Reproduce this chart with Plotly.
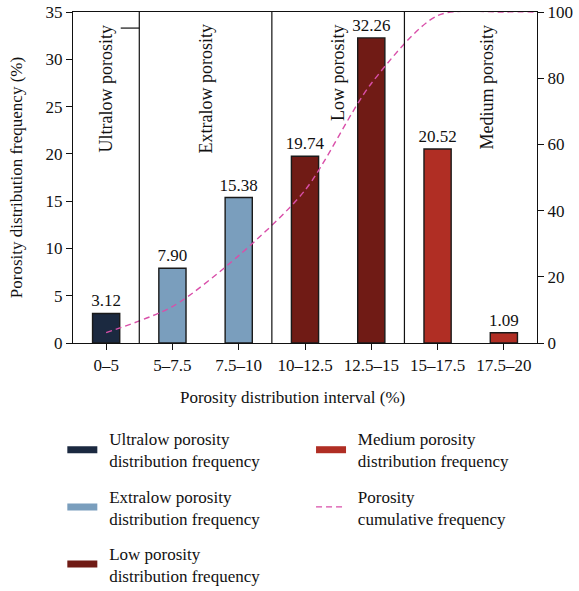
import plotly.graph_objects as go

# Porosity intervals and their distribution frequencies (%)
intervals = ["0–5", "5–7.5", "7.5–10", "10–12.5", "12.5–15", "15–17.5", "17.5–20"]
frequency = [3.12, 7.90, 15.38, 19.74, 32.26, 20.52, 1.09]
porosity_class = ["Ultralow", "Extralow", "Extralow", "Low", "Low", "Medium", "Medium"]

# Cumulative frequency (%) at each interval
cumulative = [3.12, 11.02, 26.40, 46.14, 78.40, 98.92, 100.0]

# Class styling and legend labels
class_names = ["Ultralow", "Extralow", "Low", "Medium"]
class_colors = {"Ultralow": "#1b2940", "Extralow": "#7a9ebd", "Low": "#701b15", "Medium": "#b02e24"}
class_legend = {
    "Ultralow": ["Ultralow porosity", "distribution frequency"],
    "Extralow": ["Extralow porosity", "distribution frequency"],
    "Low": ["Low porosity", "distribution frequency"],
    "Medium": ["Medium porosity", "distribution frequency"],
}
cumulative_legend = ["Porosity", "cumulative frequency"]

# Region boundaries and region captions
region_bounds = [0.5, 2.5, 4.5]
region_labels = ["Ultralow porosity", "Extralow porosity", "Low porosity", "Medium porosity"]
region_label_x = [0.0, 1.5, 3.5, 5.74]

FONT = "Liberation Serif, Times New Roman, serif"
LINE_COLOR = "#d94fa9"
x_idx = list(range(len(intervals)))
x_range = [-0.5, len(intervals) - 0.5]


def legend_text(lines):
    # small indent between the key swatch and its label
    pad = "\u2009\u2009"
    return "<br>".join(pad + s for s in lines)


fig = go.Figure()

# Frequency bars
fig.add_trace(go.Bar(
    x=x_idx, y=frequency,
    width=0.41,
    marker=dict(color=[class_colors[c] for c in porosity_class],
                line=dict(color="#1a1a1a", width=1.4)),
    text=[f"{v:.2f}" for v in frequency],
    textposition="outside",
    constraintext="none",
    textfont=dict(family=FONT, size=17, color="#111"),
    cliponaxis=False,
    showlegend=False,
))

# Cumulative frequency curve on the secondary axis, held at its end value to the axis edge
fig.add_trace(go.Scatter(
    x=x_idx + [x_range[1]], y=cumulative + [cumulative[-1]],
    yaxis="y2", mode="lines",
    line=dict(color=LINE_COLOR, width=1.4, dash="6px,4px", shape="spline", smoothing=0.8),
    showlegend=False,
))

# Legend entries
for i, c in enumerate(class_names):
    fig.add_trace(go.Scatter(
        x=[None], y=[None], mode="lines",
        line=dict(color=class_colors[c], width=7),
        name=legend_text(class_legend[c]),
        legend="legend" if i < 3 else "legend2",
        legendgroup=c,
    ))
fig.add_trace(go.Scatter(
    x=[None], y=[None], mode="lines",
    line=dict(color=LINE_COLOR, width=1.4, dash="6px,4px"),
    name=legend_text(cumulative_legend), legend="legend2", legendgroup="cum",
))

# Region divider lines
for b in region_bounds:
    fig.add_shape(type="line", xref="x", yref="y", x0=b, x1=b, y0=0, y1=35,
                  line=dict(color="#111", width=1.2))
fig.add_shape(type="line", xref="x", yref="y", x0=0.22, x1=0.5, y0=33.3, y1=33.3,
              line=dict(color="#111", width=1.2))

# Region captions
for label, xp in zip(region_labels, region_label_x):
    fig.add_annotation(x=xp, y=33.9, xref="x", yref="y", text=label, textangle=-90,
                       showarrow=False, xanchor="center", yanchor="top",
                       font=dict(family=FONT, size=18, color="#111"))

# X-axis title
fig.add_annotation(x=0.472, y=-0.166, xref="paper", yref="paper",
                   text="Porosity distribution interval (%)", showarrow=False,
                   xanchor="center", yanchor="middle",
                   font=dict(family=FONT, size=17, color="#111"))

axis_common = dict(showline=True, linecolor="#111", linewidth=1.2, ticks="outside",
                   ticklen=6, tickcolor="#111", tickwidth=1.2, showgrid=False, zeroline=False,
                   tickfont=dict(family=FONT, size=17, color="#111"))

legend_common = dict(xanchor="left", yanchor="top", orientation="v", itemwidth=30,
                     font=dict(family=FONT, size=17, color="#111"), tracegroupgap=10,
                     bgcolor="rgba(0,0,0,0)")

fig.update_layout(
    width=579, height=591,
    margin=dict(l=73, r=42, t=12, b=248, autoexpand=False),
    paper_bgcolor="white", plot_bgcolor="white",
    font=dict(family=FONT, size=17, color="#111"),
    xaxis=dict(**axis_common, range=x_range, tickvals=x_idx, ticktext=intervals, mirror=True),
    yaxis=dict(**axis_common, range=[0, 35], tickvals=[0, 5, 10, 15, 20, 25, 30, 35],
               title=dict(text="Porosity distribution frequency (%)", standoff=18,
                          font=dict(family=FONT, size=17, color="#111"))),
    yaxis2=dict(**axis_common, range=[0, 100], tickvals=[0, 20, 40, 60, 80, 100],
                overlaying="y", side="right"),
    legend=dict(x=-0.023, y=-0.236, **legend_common),
    legend2=dict(x=0.513, y=-0.236, **legend_common),
)

fig.write_html("out.html")
